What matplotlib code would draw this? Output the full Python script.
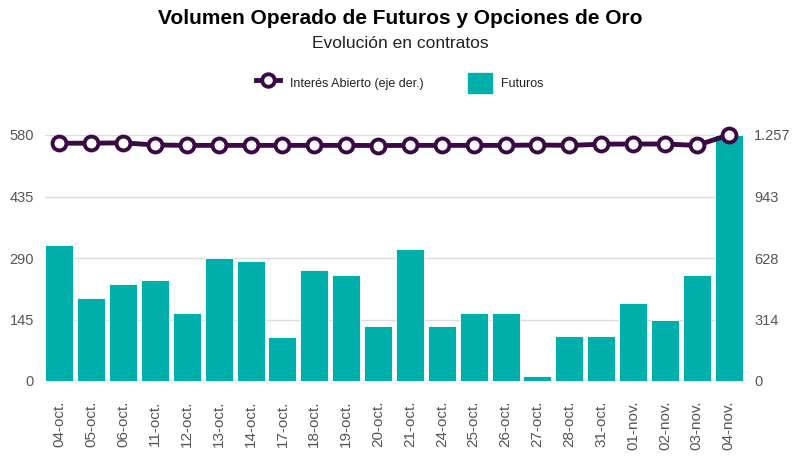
import matplotlib
matplotlib.use("Agg")
import matplotlib.pyplot as plt
from matplotlib.lines import Line2D
from matplotlib.patches import Patch

plt.rcParams['font.family'] = ['Liberation Sans', 'DejaVu Sans']

fechas = ["04-oct.", "05-oct.", "06-oct.", "11-oct.", "12-oct.", "13-oct.", "14-oct.",
          "17-oct.", "18-oct.", "19-oct.", "20-oct.", "21-oct.", "24-oct.", "25-oct.",
          "26-oct.", "27-oct.", "28-oct.", "31-oct.", "01-nov.", "02-nov.", "03-nov.", "04-nov."]
futuros = [320, 195, 229, 237, 160, 290, 283, 104, 262, 251, 130, 311, 130, 161,
           161, 12, 105, 105, 184, 145, 249, 579]
interes = [1215, 1215, 1217, 1206, 1204, 1204, 1204, 1204, 1204, 1204, 1203, 1204, 1204, 1204,
           1204, 1206, 1204, 1210, 1211, 1211, 1204, 1257]
left_ticks = [0, 145, 290, 435, 580]
right_ticks = [0, 314, 628, 943, 1257]
right_labels = ["0", "314", "628", "943", "1.257"]

teal = "#00AFAA"
purple = "#3B0A45"
txt = "#555555"

fig = plt.figure(figsize=(8, 4.57), dpi=100)
ax = fig.add_axes([45/800, 1-381/457, (743-45)/800, (381-135)/457])
x = list(range(len(fechas)))
ax.bar(x, futuros, width=0.88, color=teal, edgecolor="white", linewidth=0.6, zorder=2)
ax.set_xlim(-0.45, len(fechas)-0.55)
ax.set_ylim(0, 580)
ax.set_yticks(left_ticks)
ax.set_yticklabels([str(t) for t in left_ticks])
ax.grid(axis='y', color="#dddddd", linewidth=1, zorder=0)
ax.set_axisbelow(True)
for s in ax.spines.values():
    s.set_visible(False)
ax.tick_params(axis='both', length=0, colors=txt, labelsize=10.5)
ax.tick_params(axis='y', pad=8)
ax.set_xticks(x)
ax.set_xticklabels(fechas, rotation=90)
ax.tick_params(axis='x', pad=14, labelsize=11)

ax2 = ax.twinx()
ax2.plot(x, interes, color=purple, linewidth=3.5, marker='o', markersize=10,
         markerfacecolor='white', markeredgecolor=purple, markeredgewidth=2.8,
         zorder=5, clip_on=False)
ax2.set_ylim(0, 1257)
ax2.set_yticks(right_ticks)
ax2.set_yticklabels(right_labels)
for s in ax2.spines.values():
    s.set_visible(False)
ax2.tick_params(axis='y', length=0, colors=txt, labelsize=10.5, pad=8)

fig.text(0.5, 1-18/457, "Volumen Operado de Futuros y Opciones de Oro", ha='center', va='center',
         fontsize=15, fontweight='bold', color='black')
fig.text(0.5, 1-44/457, "Evolución en contratos", ha='center', va='center',
         fontsize=12.5, color='#222222')

handles = [Line2D([0], [0], color=purple, linewidth=3.5, marker='o', markersize=9,
                  markerfacecolor='white', markeredgecolor=purple, markeredgewidth=2.8),
           Patch(facecolor=teal, edgecolor=teal)]
leg = fig.legend(handles, ["Interés Abierto (eje der.)", "Futuros"], loc='center',
                 bbox_to_anchor=(0.5, 1-83/457), ncol=2, frameon=False, fontsize=9,
                 handlelength=1.9, handleheight=2.0, columnspacing=3.55, handletextpad=0.8)
for t in leg.get_texts():
    t.set_color('#222222')

fig.savefig("out.png", dpi=100)
